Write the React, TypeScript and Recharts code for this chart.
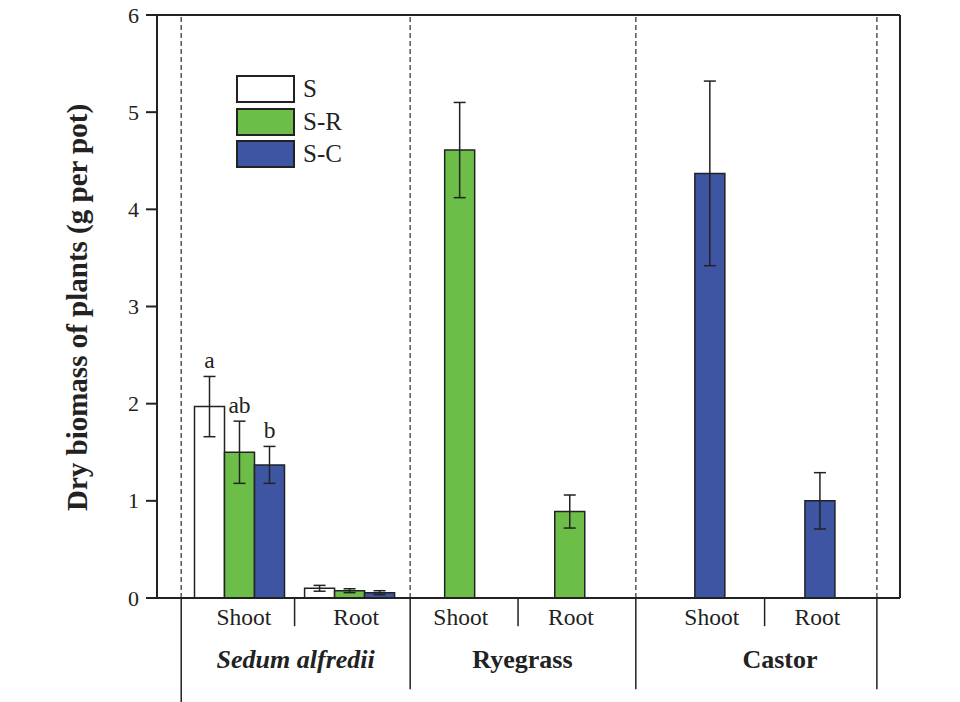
import React from 'react';
import {
  BarChart,
  Bar,
  XAxis,
  YAxis,
  ErrorBar,
  ReferenceLine,
  Legend,
  LabelList,
  Label,
} from 'recharts';

// ---------- data ----------
const parts = ['Shoot', 'Root', 'Shoot', 'Root', 'Shoot', 'Root'];
const plants = ['Sedum alfredii', 'Sedum alfredii', 'Ryegrass', 'Ryegrass', 'Castor', 'Castor'];
const groupNames = ['Sedum alfredii', 'Ryegrass', 'Castor'];
const seriesNames = ['S', 'S-R', 'S-C'];

const sValues = [1.97, 0.1, null, null, null, null];
const sErrors = [0.31, 0.03, null, null, null, null];
const sLetters = ['a', '', '', '', '', ''];

const srValues = [1.5, 0.075, 4.61, 0.89, null, null];
const srErrors = [0.32, 0.02, 0.49, 0.17, null, null];
const srLetters = ['ab', '', '', '', '', ''];

const scValues = [1.37, 0.055, null, null, 4.37, 1.0];
const scErrors = [0.19, 0.02, null, null, 0.95, 0.29];
const scLetters = ['b', '', '', '', '', ''];

const yTicks = [0, 1, 2, 3, 4, 5, 6];

// ---------- layout (annotation positions, in category-band units) ----------
const bandDomain = [-0.25, 6.5];
const partLabelPos = [0.54, 1.56, 2.51, 3.51, 4.79, 5.75];
const groupLabelPos = [1.01, 3.07, 5.41];
const dashedPos = [-0.03, 2.05, 4.1, 6.29];
const shortSepPos = [1.0, 3.03, 5.27];
const longSepPos = [
  { x: -0.03, bottom: -1.08 },
  { x: 2.05, bottom: -0.94 },
  { x: 4.1, bottom: -0.94 },
  { x: 6.29, bottom: -0.94 },
];

const colors = ['#ffffff', '#6dbe48', '#3e55a4'];
const ink = '#222222';
const serif = "'Liberation Serif', 'Times New Roman', serif";

const data = parts.map((part, i) => ({
  id: `${plants[i]}-${part}`,
  slot: i + 0.5,
  part,
  plant: plants[i],
  S: sValues[i],
  sErr: sErrors[i],
  sLetter: sLetters[i],
  SR: srValues[i],
  srErr: srErrors[i],
  srLetter: srLetters[i],
  SC: scValues[i],
  scErr: scErrors[i],
  scLetter: scLetters[i],
}));

const makeLetter = (valueKey: string, errKey: string) => (props: any) => {
  const { x, y, width, height, value, index } = props;
  if (!value) return null;
  const row: any = data[index];
  const v = row[valueKey];
  const e = row[errKey] || 0;
  const errPx = v ? (e / v) * height : 0;
  return (
    <text
      x={x + width / 2}
      y={y - errPx - 8}
      textAnchor="middle"
      style={{ fontFamily: serif, fontSize: 23.5, fill: ink }}
    >
      {value}
    </text>
  );
};

const PartTick = (props: any) => {
  const { x, y, index } = props;
  return (
    <text x={x} y={y + 27} textAnchor="middle" style={{ fontFamily: serif, fontSize: 23.5, fill: ink }}>
      {parts[index]}
    </text>
  );
};

const GroupTick = (props: any) => {
  const { x, y, index } = props;
  return (
    <text
      x={x}
      y={y + 30}
      textAnchor="middle"
      style={{
        fontFamily: serif,
        fontSize: 26,
        fontWeight: 'bold',
        fontStyle: index === 0 ? 'italic' : 'normal',
        fill: ink,
      }}
    >
      {groupNames[index]}
    </text>
  );
};

const YTick = (props: any) => {
  const { x, y, payload } = props;
  return (
    <text x={x} y={y} dy={7.5} textAnchor="end" style={{ fontFamily: serif, fontSize: 22, fill: ink }}>
      {payload.value}
    </text>
  );
};

const renderLegend = () => (
  <div style={{ display: 'flex', flexDirection: 'column' }}>
    {seriesNames.map((n, i) => (
      <div
        key={n}
        style={{ display: 'flex', alignItems: 'center', height: 28, marginBottom: i < 2 ? 4.6 : 0 }}
      >
        <div
          style={{
            width: 59,
            height: 28,
            background: colors[i],
            border: `2px solid ${ink}`,
            boxSizing: 'border-box',
          }}
        />
        <span
          style={{
            marginLeft: 8,
            fontFamily: serif,
            fontSize: 25,
            color: ink,
            lineHeight: '28px',
          }}
        >
          {n}
        </span>
      </div>
    ))}
  </div>
);

const YLabel = (props: any) => {
  const vb = props.viewBox || { x: 0, y: 15, width: 157, height: 583 };
  const cy = vb.y + vb.height / 2 + 1;
  const cx = 87;
  return (
    <text
      x={cx}
      y={cy}
      transform={`rotate(-90, ${cx}, ${cy})`}
      textAnchor="middle"
      style={{ fontFamily: serif, fontWeight: 'bold', fontSize: 29, fill: ink }}
    >
      Dry biomass of plants (g per pot)
    </text>
  );
};

export default function App() {
  return (
    <div style={{ position: 'absolute', left: 0, top: 0, width: 960, height: 702, background: '#fff' }}>
      <BarChart
        width={960}
        height={702}
        data={data}
        margin={{ top: 15, right: 60, left: 0, bottom: 0 }}
        barGap={0}
      >
        <XAxis
          xAxisId="a_bars"
          dataKey="id"
          type="category"
          hide
          height={0}
          padding={{ left: 27.5, right: 55 }}
        />
        <XAxis
          xAxisId="b_parts"
          dataKey="slot"
          type="number"
          domain={bandDomain}
          allowDataOverflow
          ticks={partLabelPos}
          interval={0}
          height={40}
          tickSize={0}
          tickMargin={0}
          tickLine={false}
          axisLine={{ stroke: ink, strokeWidth: 2 }}
          tick={<PartTick />}
        />
        <XAxis
          xAxisId="c_plants"
          dataKey="slot"
          type="number"
          domain={bandDomain}
          allowDataOverflow
          ticks={groupLabelPos}
          interval={0}
          height={64}
          tickSize={0}
          tickMargin={0}
          tickLine={false}
          axisLine={false}
          tick={<GroupTick />}
        />
        <YAxis
          domain={[0, 6]}
          ticks={yTicks}
          interval={0}
          width={157}
          tickSize={11}
          tickMargin={7}
          axisLine={{ stroke: ink, strokeWidth: 2 }}
          tickLine={{ stroke: ink, strokeWidth: 2 }}
          tick={<YTick />}
        >
          <Label content={<YLabel />} />
        </YAxis>

        {/* frame */}
        <ReferenceLine xAxisId="b_parts" y={6} stroke={ink} strokeWidth={2} ifOverflow="visible" />
        <ReferenceLine xAxisId="b_parts" x={bandDomain[1]} stroke={ink} strokeWidth={2} ifOverflow="visible" />

        {/* dashed group separators */}
        {dashedPos.map((p) => (
          <ReferenceLine
            key={`d${p}`}
            xAxisId="b_parts"
            x={p}
            stroke="#555"
            strokeWidth={1.5}
            strokeDasharray="5 3"
            ifOverflow="visible"
          />
        ))}

        {/* separators below the axis */}
        {longSepPos.map((s) => (
          <ReferenceLine
            key={`l${s.x}`}
            xAxisId="b_parts"
            segment={[
              { x: s.x, y: 0 },
              { x: s.x, y: s.bottom },
            ]}
            stroke={ink}
            strokeWidth={1.5}
            ifOverflow="visible"
          />
        ))}
        {shortSepPos.map((p) => (
          <ReferenceLine
            key={`s${p}`}
            xAxisId="b_parts"
            segment={[
              { x: p, y: 0 },
              { x: p, y: -0.29 },
            ]}
            stroke={ink}
            strokeWidth={1.5}
            ifOverflow="visible"
          />
        ))}

        <Bar
          xAxisId="a_bars"
          dataKey="S"
          name="S"
          fill={colors[0]}
          stroke={ink}
          strokeWidth={1.5}
          barSize={30}
          isAnimationActive={false}
        >
          <ErrorBar dataKey="sErr" width={6} stroke={ink} strokeWidth={1.5} direction="y" />
          <LabelList dataKey="sLetter" content={makeLetter('S', 'sErr')} />
        </Bar>
        <Bar
          xAxisId="a_bars"
          dataKey="SR"
          name="S-R"
          fill={colors[1]}
          stroke={ink}
          strokeWidth={1.5}
          barSize={30}
          isAnimationActive={false}
        >
          <ErrorBar dataKey="srErr" width={6} stroke={ink} strokeWidth={1.5} direction="y" />
          <LabelList dataKey="srLetter" content={makeLetter('SR', 'srErr')} />
        </Bar>
        <Bar
          xAxisId="a_bars"
          dataKey="SC"
          name="S-C"
          fill={colors[2]}
          stroke={ink}
          strokeWidth={1.5}
          barSize={30}
          isAnimationActive={false}
        >
          <ErrorBar dataKey="scErr" width={6} stroke={ink} strokeWidth={1.5} direction="y" />
          <LabelList dataKey="scLetter" content={makeLetter('SC', 'scErr')} />
        </Bar>

        <Legend
          layout="vertical"
          align="center"
          verticalAlign="middle"
          content={renderLegend}
          wrapperStyle={{ left: 236, top: 75, width: 'auto', height: 'auto' }}
        />
      </BarChart>
    </div>
  );
}
